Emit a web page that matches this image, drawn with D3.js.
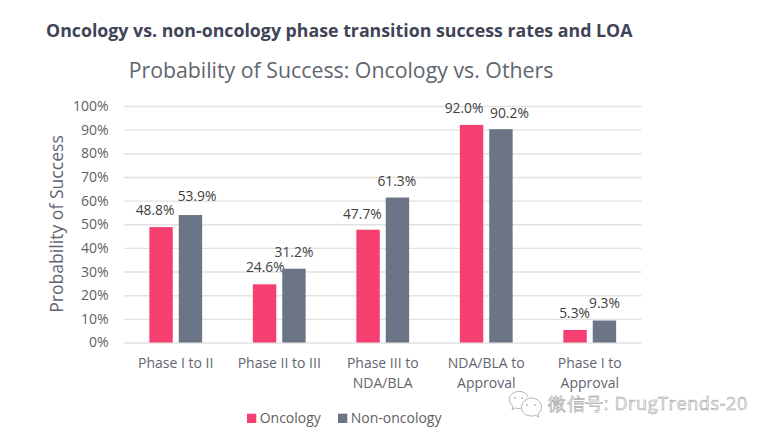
<!DOCTYPE html>
<html>
<head>
<meta charset="utf-8">
<script src="https://cdn.jsdelivr.net/npm/d3@7/dist/d3.min.js"></script>
<style>
html,body{margin:0;padding:0;background:#fff;}
svg{display:block;}
text{font-family:"Open Sans",sans-serif;}
</style>
</head>
<body>
<svg id="c" width="772" height="439"></svg>
<script>
const categories = [["Phase I to II"],["Phase II to III"],["Phase III to","NDA/BLA"],["NDA/BLA to","Approval"],["Phase I to","Approval"]];
const seriesNames = ["Oncology","Non-oncology"];
const oncology = [48.8,24.6,47.7,92.0,5.3];
const nonOncology = [53.9,31.2,61.3,90.2,9.3];
const yTicks = [0,10,20,30,40,50,60,70,80,90,100];
// manual data-label nudges, as in the source chart
const labelNudgeOnc = [[-6,-12],[0.7,-12.5],[-5.7,-10.6],[-7.5,-11.5],[-0.5,-11.7]];
const labelNudgeNon = [[6.6,-14],[0,-11.7],[-0.7,-12],[8.5,-11.5],[0,-13]];

const colors = ["#f43f70","#6b7585"];
const svg = d3.select("#c");
const x = d3.scaleBand().domain(d3.range(categories.length)).range([124,641.5]).paddingInner(0).paddingOuter(0);
const y = d3.scaleLinear().domain([0,100]).range([342.5,106]);
const barW = 23.4, gap = 6;

svg.append("text").attr("x",46).attr("y",36.5).attr("font-size",17.75).attr("font-weight",700).attr("fill","#3f4457")
  .text("Oncology vs. non-oncology phase transition success rates and LOA");
svg.append("text").attr("x",341).attr("y",78).attr("text-anchor","middle").attr("font-size",21.3).attr("fill","#5f6670")
  .text("Probability of Success: Oncology vs. Others");
svg.append("text").attr("transform","translate(62.5,224) rotate(-90)").attr("text-anchor","middle").attr("font-size",17.6).attr("fill","#606670")
  .text("Probability of Success");

// gridlines + y labels via axis
const yAxis = d3.axisLeft(y).tickValues(yTicks).tickFormat(d=>d+"%").tickSize(-(641.5-124)).tickPadding(15.5);
const gy = svg.append("g").attr("transform","translate(124,0)").call(yAxis);
gy.select(".domain").remove();
gy.selectAll("line").attr("stroke","#e2e2e2").attr("stroke-width",1.4);
gy.selectAll("text").attr("font-size",14).attr("fill","#5f5f5f").attr("font-family",'"Open Sans",sans-serif');

const groups = [oncology,nonOncology];
const nudges = [labelNudgeOnc,labelNudgeNon];
groups.forEach((vals,s)=>{
  const cx = i => x(i)+x.bandwidth()/2 + (s===0 ? -(gap/2+barW/2) : (gap/2+barW/2));
  svg.append("g").selectAll("rect").data(vals).join("rect")
    .attr("x",(d,i)=>cx(i)-barW/2).attr("width",barW)
    .attr("y",d=>y(d)).attr("height",d=>y(0)-y(d)).attr("fill",colors[s]);
  svg.append("g").selectAll("text").data(vals).join("text")
    .attr("x",(d,i)=>cx(i)+nudges[s][i][0])
    .attr("y",(d,i)=>y(d)+nudges[s][i][1])
    .attr("text-anchor","middle").attr("font-size",13.8).attr("fill","#404040")
    .text(d=>d.toFixed(1)+"%");
});

// category labels
const gx = svg.append("g");
categories.forEach((lines,i)=>{
  const t = gx.append("text").attr("text-anchor","middle").attr("font-size",14).attr("fill","#5f6670");
  lines.forEach((l,k)=>t.append("tspan").attr("x",x(i)+x.bandwidth()/2).attr("y",368+k*20).text(l));
});

// legend
const legendX = [247,338];
seriesNames.forEach((n,s)=>{
  svg.append("rect").attr("x",legendX[s]).attr("y",413.7).attr("width",9.3).attr("height",9.3).attr("fill",colors[s]);
  svg.append("text").attr("x",legendX[s]+12.7).attr("y",423).attr("font-size",14).attr("fill","#5f5f5f").text(n);
});

// watermark
const wm = svg.append("g").attr("fill","none").attr("stroke","#a0a0a0").attr("stroke-width",0.8);
wm.append("path").attr("d","M528 397c-1-4-6-6-10-5.500c-5 .5-9 4-8.500 8.500c.3 3 1.500 5 3.500 6.500l-1 3l3.500-1.500c1.500.5 3 .8 5 .6");
wm.append("path").attr("d","M521.500 408c0-6 5-10 10-10c5.500 0 10 4 10 9c0 3-1.500 5.500-3.500 7l.8 3l-3.300-1.700c-1.500.5-2.500.7-4 .7c-5.500 0-10-3.500-10-8z");
wm.selectAll("circle").data([[515,398],[522,398],[527,405],[535,405]]).join("circle")
  .attr("cx",d=>d[0]).attr("cy",d=>d[1]).attr("r",0.8).attr("fill","#909090").attr("stroke","none");
svg.append("text").attr("x",548).attr("y",410.3).attr("font-size",18).attr("letter-spacing",0.6).attr("fill","#f8f8f8").attr("stroke","#8c8c8c").attr("stroke-width",0.45)
  .attr("font-family",'"Noto Sans CJK SC","Open Sans",sans-serif').text("微信号: DrugTrends-20");
</script>
</body>
</html>
